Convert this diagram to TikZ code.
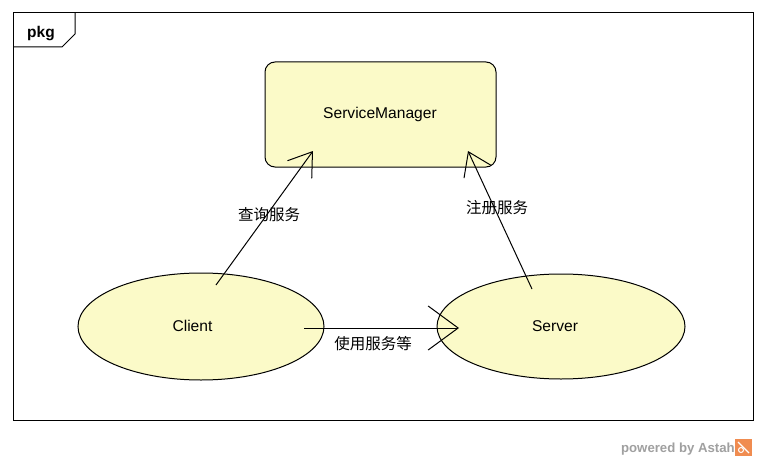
\documentclass[tikz,border=0pt]{standalone}
\usepackage{fontspec}
\setmainfont{Liberation Sans}
\newfontfamily\cjk{Noto Sans CJK SC}
\usetikzlibrary{shapes.geometric,arrows.meta}
\definecolor{fillyel}{RGB}{251,250,200}
\definecolor{astahgray}{RGB}{160,160,160}
\definecolor{astahorange}{RGB}{240,140,80}
\tikzset{
  ucase/.style={ellipse,draw=black,fill=fillyel,line width=1pt,inner sep=0pt,outer sep=0pt},
  smbox/.style={rectangle,rounded corners=10pt,draw=black,fill=fillyel,line width=1pt,inner sep=0pt,outer sep=0pt},
  lbl/.style={font=\fontsize{15.6}{18}\selectfont,inner sep=0pt},
  cjklbl/.style={font=\cjk\fontsize{15.5}{18}\selectfont,inner sep=0pt},
  dep/.style={line width=1pt,-{Straight Barb[length=22pt,width=30pt,line width=1pt]}},
  deph/.style={line width=1pt,-{Straight Barb[length=30pt,width=44pt,line width=1pt]}},
}
\begin{document}
\begin{tikzpicture}[x=1pt,y=-1pt]
\useasboundingbox (0,0) rectangle (766,460);
\fill[white] (0,0) rectangle (766,460);
% frame
\draw[line width=1pt] (13,13) rectangle (753,420);
\draw[line width=1pt] (13,47) -- (62,47) -- (75,34) -- (75,13);
\node[anchor=base,inner sep=0pt,font=\bfseries\fontsize{15.5}{18}\selectfont] (pkg) at (41,38) {pkg};
% nodes
\node[smbox,minimum width=231pt,minimum height=105pt] (sm) at (380.5,114.5) {};
\node[lbl] (smt) at (380,114) {ServiceManager};
\node[ucase,minimum width=246pt,minimum height=107pt] (client) at (201,326.5) {};
\node[lbl] (clientt) at (192.5,326) {Client};
\node[ucase,minimum width=248pt,minimum height=105pt] (server) at (561,326.5) {};
\node[lbl] (servert) at (555,326) {Server};
% connector end points
\coordinate (cs) at (216,285);
\coordinate (ct) at (313,151);
\coordinate (ss) at (532,289);
\coordinate (st) at (468,151);
\coordinate (hs) at (304,328);
\coordinate (ht) at (459,328);
\draw[dep] (cs) -- (ct);
\draw[dep] (ss) -- (st);
\draw[deph] (hs) -- (ht);
% labels
\node[cjklbl] (l1) at (269,215) {查询服务};
\node[cjklbl] (l2) at (497,208) {注册服务};
\node[cjklbl] (l3) at (373,344) {使用服务等};
% watermark
\node[anchor=base east,inner sep=0pt,text=astahgray,font=\bfseries\fontsize{13.2}{15}\selectfont] (pw) at (735,452) {powered by Astah};
\fill[astahorange] (735,439) rectangle (752,456);
\draw[white,line width=1.2pt] (738,442) -- (749,453);
\draw[white,line width=1pt] (741,450) circle (2.5);
\end{tikzpicture}
\end{document}
